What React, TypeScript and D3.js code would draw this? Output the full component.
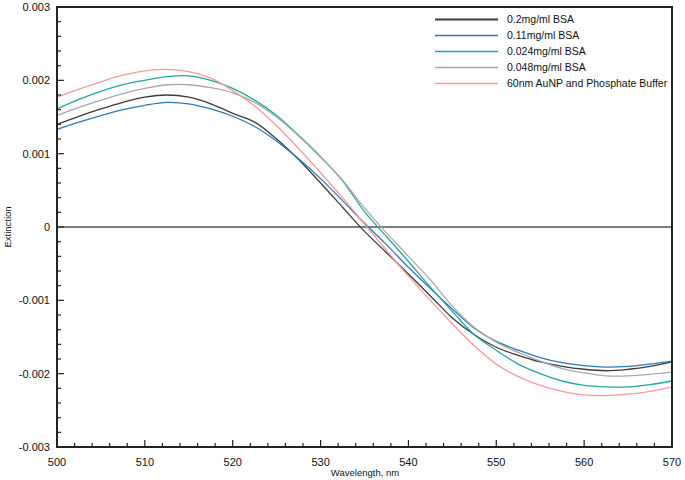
import * as d3 from "d3";
import { useEffect, useRef } from "react";

// wavelengths, nm
const wavelengths = [
  500, 502.5, 505, 507.5, 510, 512.5, 515, 517.5, 520, 522.5, 525, 527.5, 530, 532.5, 535,
  537.5, 540, 542.5, 545, 547.5, 550, 552.5, 555, 557.5, 560, 562.5, 565, 567.5, 570
];

// extinction values, x 1e-3
const bsa02 = [
  1.40, 1.51, 1.61, 1.70, 1.77, 1.80, 1.77, 1.68, 1.55, 1.43, 1.20, 0.92, 0.60, 0.27, -0.06,
  -0.35, -0.64, -0.94, -1.24, -1.47, -1.64, -1.75, -1.84, -1.90, -1.94, -1.96, -1.94, -1.90, -1.84
];
const bsa011 = [
  1.33, 1.43, 1.52, 1.60, 1.66, 1.70, 1.68, 1.61, 1.51, 1.37, 1.17, 0.93, 0.66, 0.36, 0.05,
  -0.24, -0.55, -0.84, -1.12, -1.38, -1.56, -1.68, -1.78, -1.85, -1.89, -1.91, -1.90, -1.87, -1.83
];
const bsa0024 = [
  1.61, 1.74, 1.85, 1.94, 2.00, 2.05, 2.06, 2.00, 1.89, 1.73, 1.52, 1.25, 0.96, 0.63, 0.21,
  -0.13, -0.47, -0.82, -1.15, -1.47, -1.68, -1.87, -2.00, -2.10, -2.16, -2.18, -2.18, -2.15, -2.10
];
const bsa0048 = [
  1.52, 1.63, 1.73, 1.82, 1.89, 1.94, 1.94, 1.90, 1.83, 1.70, 1.50, 1.24, 0.95, 0.64, 0.26,
  -0.08, -0.40, -0.72, -1.08, -1.37, -1.57, -1.71, -1.83, -1.93, -1.99, -2.03, -2.03, -2.01, -1.98
];
const buffer = [
  1.77, 1.88, 1.98, 2.07, 2.13, 2.15, 2.12, 2.03, 1.86, 1.65, 1.38, 1.07, 0.74, 0.40, 0.04,
  -0.32, -0.67, -1.00, -1.32, -1.62, -1.87, -2.04, -2.16, -2.24, -2.29, -2.30, -2.28, -2.24, -2.18
];

const seriesNames = [
  "0.2mg/ml BSA",
  "0.11mg/ml BSA",
  "0.024mg/ml BSA",
  "0.048mg/ml BSA",
  "60nm AuNP and Phosphate Buffer"
];
const seriesValues = [bsa02, bsa011, bsa0024, bsa0048, buffer];
const seriesColors = ["#3d3d3d", "#2f79b9", "#23a7a1", "#a9a9a9", "#f59b9b"];

const xTicks = [500, 510, 520, 530, 540, 550, 560, 570];
const yTicks = [-0.003, -0.002, -0.001, 0, 0.001, 0.002, 0.003];
const yTickLabels = ["-0.003", "-0.002", "-0.001", "0", "0.001", "0.002", "0.003"];

const W = 685;
const H = 480;
const margin = { top: 7, right: 13, bottom: 33, left: 57 };
const FONT = "'Liberation Sans', Arial, Helvetica, sans-serif";

const App = () => {
  const chartRef = useRef(null);

  useEffect(() => {
    const svg = d3.select(chartRef.current);
    svg.selectAll("*").remove();

    const x = d3.scaleLinear().domain([500, 570]).range([margin.left, W - margin.right]);
    const y = d3.scaleLinear().domain([-0.003, 0.003]).range([H - margin.bottom, margin.top]);

    svg.append("rect").attr("width", W).attr("height", H).attr("fill", "#fff");

    // zero line
    svg.append("line")
      .attr("x1", x(500)).attr("x2", x(570))
      .attr("y1", y(0)).attr("y2", y(0))
      .attr("stroke", "#555")
      .attr("stroke-width", 1.6);

    // curves
    const line = d3.line()
      .x((d, i) => x(wavelengths[i]))
      .y(d => y(d / 1000))
      .curve(d3.curveCatmullRom);

    seriesValues.forEach((vals, i) => {
      svg.append("path")
        .attr("d", line(vals))
        .attr("fill", "none")
        .attr("stroke", seriesColors[i])
        .attr("stroke-width", 1.3);
    });

    // minor/major ticks, drawn inward
    const xMinor = d3.range(500, 570.001, 2);
    svg.append("g").selectAll("line")
      .data(xMinor)
      .enter()
      .append("line")
      .attr("x1", d => x(d)).attr("x2", d => x(d))
      .attr("y1", y(-0.003))
      .attr("y2", d => y(-0.003) - (d % 10 === 0 ? 7 : 4))
      .attr("stroke", "#222")
      .attr("stroke-width", 1.2);

    const yMinor = d3.range(-15, 16).map(k => k * 0.0002);
    svg.append("g").selectAll("line")
      .data(yMinor)
      .enter()
      .append("line")
      .attr("y1", d => y(d)).attr("y2", d => y(d))
      .attr("x1", x(500))
      .attr("x2", (d, i) => x(500) + ((i % 5) === 0 ? 7 : 4))
      .attr("stroke", "#222")
      .attr("stroke-width", 1.2);

    // frame
    svg.append("rect")
      .attr("x", x(500)).attr("y", y(0.003))
      .attr("width", x(570) - x(500))
      .attr("height", y(-0.003) - y(0.003))
      .attr("fill", "none")
      .attr("stroke", "#222")
      .attr("stroke-width", 2);

    // tick labels
    svg.append("g").selectAll("text")
      .data(xTicks)
      .enter()
      .append("text")
      .attr("x", d => x(d))
      .attr("y", y(-0.003) + 19)
      .attr("text-anchor", "middle")
      .attr("font-family", FONT)
      .attr("font-size", 11)
      .attr("fill", "#111")
      .text(d => d);

    svg.append("g").selectAll("text")
      .data(yTicks)
      .enter()
      .append("text")
      .attr("x", x(500) - 7)
      .attr("y", d => y(d) + 4)
      .attr("text-anchor", "end")
      .attr("font-family", FONT)
      .attr("font-size", 11)
      .attr("fill", "#111")
      .text((d, i) => yTickLabels[i]);

    // axis titles
    svg.append("text")
      .attr("x", 365)
      .attr("y", H - 4)
      .attr("text-anchor", "middle")
      .attr("font-family", FONT)
      .attr("font-size", 9.5)
      .attr("fill", "#111")
      .text("Wavelength, nm");

    svg.append("text")
      .attr("transform", `translate(11, ${y(0)}) rotate(-90)`)
      .attr("text-anchor", "middle")
      .attr("font-family", FONT)
      .attr("font-size", 9.5)
      .attr("fill", "#111")
      .text("Extinction");

    // legend
    const legend = svg.append("g");
    seriesNames.forEach((name, i) => {
      const ly = 19.5 + i * 16;
      legend.append("line")
        .attr("x1", 435).attr("x2", 498)
        .attr("y1", ly).attr("y2", ly)
        .attr("stroke", seriesColors[i])
        .attr("stroke-width", i === 0 ? 1.8 : 1.3);
      legend.append("text")
        .attr("x", 507)
        .attr("y", ly + 3.5)
        .attr("font-family", FONT)
        .attr("font-size", 10.5)
        .attr("fill", "#111")
        .text(name);
    });
  }, []);

  return (
    <svg
      ref={chartRef}
      width={W}
      height={H}
      style={{ position: "absolute", left: 0, top: 0, display: "block" }}
    ></svg>
  );
};

export default App;
